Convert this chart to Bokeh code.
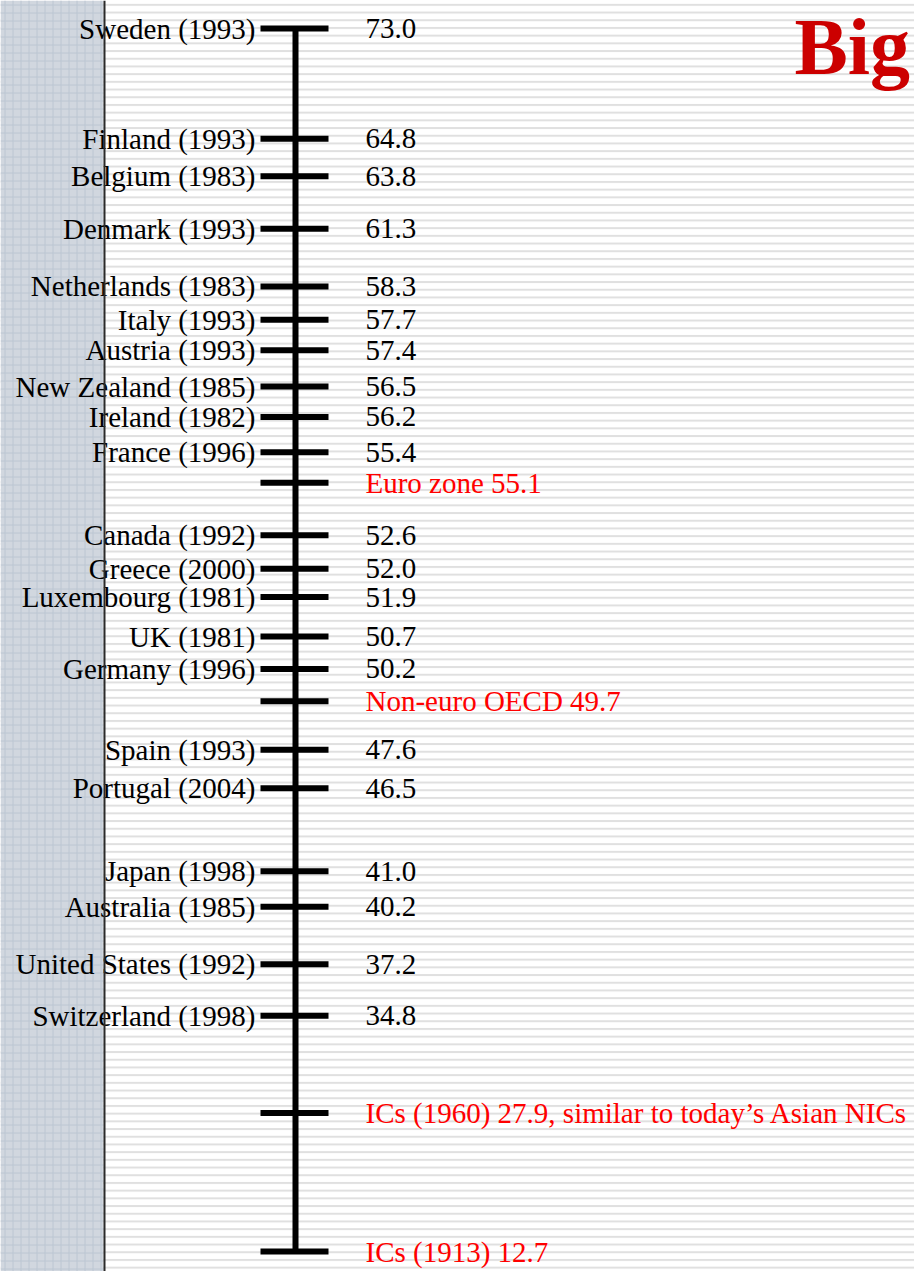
import numpy as np
from bokeh.plotting import figure
from bokeh.models import Range1d, ColumnDataSource, BoxAnnotation, Span
from bokeh.core.properties import value
from bokeh.embed import file_html
from bokeh.resources import INLINE

# ---------------- data ----------------
names = [
    "Sweden (1993)", "Finland (1993)", "Belgium (1983)", "Denmark (1993)",
    "Netherlands (1983)", "Italy (1993)", "Austria (1993)", "New Zealand (1985)",
    "Ireland (1982)", "France (1996)", "Euro zone", "Canada (1992)",
    "Greece (2000)", "Luxembourg (1981)", "UK (1981)", "Germany (1996)",
    "Non-euro OECD", "Spain (1993)", "Portugal (2004)", "Japan (1998)",
    "Australia (1985)", "United States (1992)", "Switzerland (1998)",
    "ICs (1960)", "ICs (1913)",
]
values = [
    73.0, 64.8, 63.8, 61.3,
    58.3, 57.7, 57.4, 56.5,
    56.2, 55.4, 55.1, 52.6,
    52.0, 51.9, 50.7, 50.2,
    49.7, 47.6, 46.5, 41.0,
    40.2, 37.2, 34.8,
    27.9, 12.7,
]
aggregates = ["Euro zone", "Non-euro OECD", "ICs (1960)", "ICs (1913)"]
notes = {"ICs (1960)": ", similar to today\u2019s Asian NICs"}
title_text = "Big"

# ---------------- layout: rank blended with value, very large jumps compressed ----------------
BLEND = 0.37
MAX_STEP = 11.0
vals = np.array(values, dtype=float)
order = np.argsort(-vals, kind="stable")
sorted_vals = vals[order]
steps = np.minimum(-np.diff(sorted_vals), MAX_STEP)
pos_sorted = np.arange(len(vals)) + BLEND * np.concatenate([[0.0], np.cumsum(steps)])
pos = np.empty(len(vals))
pos[order] = pos_sorted

W, H = 914, 1271
TOP_PX, BOTTOM_PX = 28, 20          # frame margin above first / below last tick
span_px = H - TOP_PX - BOTTOM_PX
scale = span_px / (pos.max() - pos.min())
y_top = pos.min() - TOP_PX / scale
y_bottom = pos.max() + BOTTOM_PX / scale

left_labels = [("" if n in aggregates else n) for n in names]
right_labels = [
    (f"{n} {v:.1f}{notes.get(n, '')}" if n in aggregates else f"{v:.1f}")
    for n, v in zip(names, values)
]
right_colors = [("#ff0000" if n in aggregates else "#000000") for n in names]

SPINE_X = 295
TICK_X0, TICK_X1 = 260, 328
LEFT_X, RIGHT_X = 255, 365

src = ColumnDataSource(dict(
    y=pos, left=left_labels, right=right_labels, rcolor=right_colors,
    x0=[TICK_X0] * len(pos), x1=[TICK_X1] * len(pos),
    lx=[LEFT_X] * len(pos), rx=[RIGHT_X] * len(pos),
))

p = figure(width=W, height=H, output_backend="svg", toolbar_location=None,
           x_range=Range1d(0, W), y_range=Range1d(y_bottom, y_top),
           x_axis_type=None, y_axis_type=None, min_border=0)
p.outline_line_color = None
p.grid.visible = False
p.background_fill_color = "#ffffff"
p.border_fill_color = "#ffffff"
p.extra_y_ranges = {"page": Range1d(H, 0)}

# striped slide background
stripes = BoxAnnotation(fill_alpha=0, line_alpha=0, hatch_pattern="horizontal_line",
                        hatch_color="#e0e0e0", hatch_weight=2, hatch_scale=7.7,
                        level="underlay")
p.add_layout(stripes)
# left decorative panel
panel = BoxAnnotation(right=103, fill_color="#d1d7df", fill_alpha=1, line_alpha=0,
                      hatch_pattern="+", hatch_color="#bcc6d2", hatch_weight=1,
                      hatch_scale=8, level="underlay")
p.add_layout(panel)
p.add_layout(Span(location=104, dimension="height", line_color="#2a2a2a", line_width=2))

# spine and ticks
p.segment(x0=[SPINE_X], y0=[pos.min()], x1=[SPINE_X], y1=[pos.max()],
          line_color="black", line_width=6)
p.segment(x0="x0", y0="y", x1="x1", y1="y", source=src,
          line_color="black", line_width=6)

font = value("Liberation Serif")
p.text(x="lx", y="y", text="left", source=src, text_font=font,
       text_font_size="29px", text_align="right", text_baseline="middle",
       text_color="#000000")
p.text(x="rx", y="y", text="right", source=src, text_font=font,
       text_font_size="29px", text_align="left", text_baseline="middle",
       text_color="rcolor")

# slide title (top-right)
p.text(x=[794], y=[46], text=[title_text], y_range_name="page", text_font=font,
       text_font_size="80px", text_font_style="bold", text_color="#cc0000",
       text_align="left", text_baseline="middle")

open("out.html", "w").write(file_html(p, INLINE))
